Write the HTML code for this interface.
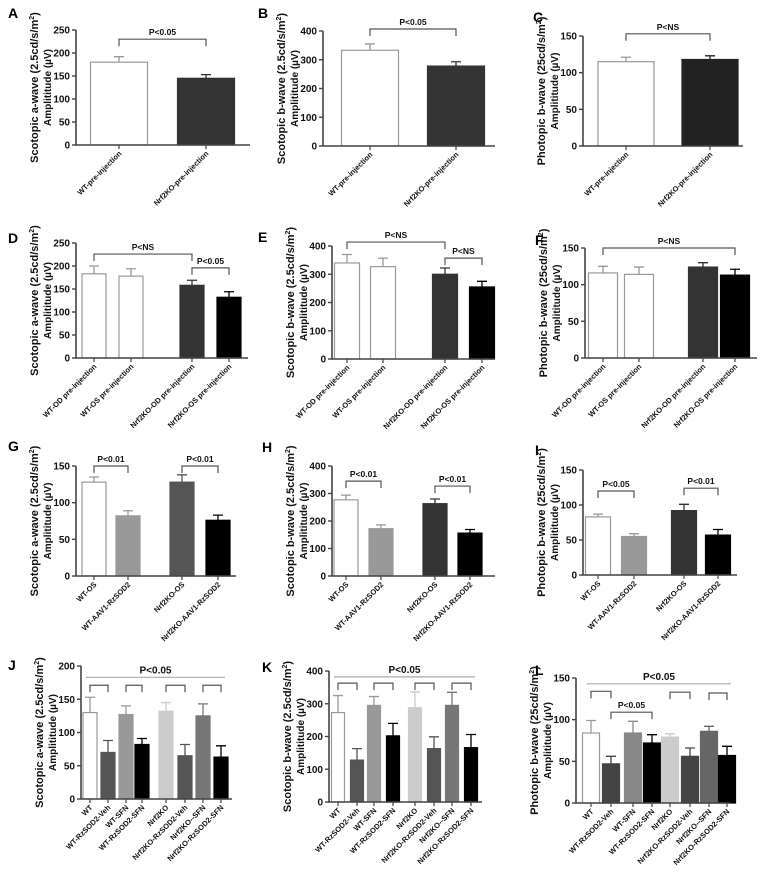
<!DOCTYPE html>
<html><head><meta charset="utf-8">
<style>
html,body{margin:0;padding:0;background:#fff;}
svg{display:block;font-family:"Liberation Sans",Arial,sans-serif;}
</style></head>
<body>
<svg id="fig" width="764" height="892" viewBox="0 0 764 892" xmlns="http://www.w3.org/2000/svg"></svg>
<script>
// ---- data arrays ----
const labelsPre2 = ["WT-pre-injection","Nrf2KO-pre-injection"];
const labelsPre4 = ["WT-OD pre-injection","WT-OS pre-injection","Nrf2KO-OD pre-injection","Nrf2KO-OS pre-injection"];
const labelsAAV = ["WT-OS","WT-AAV1-RzSOD2","Nrf2KO-OS","Nrf2KO-AAV1-RzSOD2"];
const labelsSFN = ["WT","WT-RzSOD2-Veh","WT-SFN","WT-RzSOD2-SFN","Nrf2KO","Nrf2KO-RzSOD2-Veh","Nrf2KO--SFN","Nrf2KO-RzSOD2-SFN"];

const valuesA = [180,145]; const errorsA = [12,8];
const valuesB = [333,278]; const errorsB = [22,15];
const valuesC = [115,118]; const errorsC = [6,5];
const valuesD = [183,178,158,132]; const errorsD = [17,16,11,12];
const valuesE = [340,327,300,255]; const errorsE = [30,30,22,20];
const valuesF = [116,114,124,113]; const errorsF = [9,10,6,8];
const valuesG = [128,82,128,76]; const errorsG = [7,7,10,7];
const valuesH = [277,172,263,156]; const errorsH = [17,14,17,13];
const valuesI = [83,55,92,57]; const errorsI = [4,4,9,8];
const valuesJ = [130,70,127,82,132,65,125,63]; const errorsJ = [23,18,13,9,13,17,18,17];
const valuesK = [273,128,295,202,288,163,295,166]; const errorsK = [52,35,27,38,48,36,40,40];
const valuesL = [84,47,84,72,79,56,86,57]; const errorsL = [15,9,14,10,4,10,6,11];

const ticksA = [0,50,100,150,200,250];
const ticksB = [0,100,200,300,400];
const ticksC = [0,50,100,150];
const ticksJ = [0,50,100,150,200];

// brackets: [from, to, value, label, style]
const bracketsA = [[0,1,230,"P<0.05"]];
const bracketsB = [[0,1,407,"P<0.05"]];
const bracketsC = [[0,1,153,"P<NS"]];
const bracketsD = [[0,2,226,"P<NS"],[2,3,196,"P<0.05"]];
const bracketsE = [[0,2,414,"P<NS"],[2,3,357,"P<NS"]];
const bracketsF = [[0,3,150,"P<NS"]];
const bracketsG = [[0,1,150,"P<0.01"],[2,3,150,"P<0.01"]];
const bracketsH = [[0,1,345,"P<0.01"],[2,3,327,"P<0.01"]];
const bracketsI = [[0,1,120,"P<0.05"],[2,3,124,"P<0.01"]];
const bracketsJ = [[0,7,183,"P<0.05","line"],[0,1,171,""],[2,3,171,""],[4,5,171,""],[6,7,171,""]];
const bracketsK = [[0,7,382,"P<0.05","line"],[0,1,363,""],[2,3,363,""],[4,5,363,""],[6,7,363,""]];
const bracketsL = [[0,7,143,"P<0.05","line"],[0,1,134,""],[4,5,133,""],[6,7,132,""],[1,3,109,"P<0.05"]];

const colorsPre2 = ["#fff","#333"];
const colorsC = ["#fff","#222"];
const colorsPre4 = ["#fff","#fff","#333","#000"];
const colorsG = ["#fff","#999","#555","#000"];
const colorsHI = ["#fff","#999","#333","#000"];
const colorsJ = ["#fff","#555","#999","#000","#ccc","#555","#777","#000"];
const colorsL = ["#fff","#444","#888","#000","#ccc","#444","#666","#000"];

// ---- layout (pixel geometry only) ----
const panels = [
 {id:"A",lx:8,ly:18,ax:76,xe:250,y0:145,yt:30,max:250,ticks:ticksA,vals:valuesA,errs:errorsA,labels:labelsPre2,colors:colorsPre2,cx:[119,206],bw:57,br:bracketsA,t1:"Scotopic a-wave (2.5cd/s/m",t2:"Amplititude (µV)"},
 {id:"B",lx:258,ly:18,ax:323,xe:495,y0:146,yt:31,max:400,ticks:ticksB,vals:valuesB,errs:errorsB,labels:labelsPre2,colors:colorsPre2,cx:[370,456],bw:57,br:bracketsB,t1:"Scotopic b-wave (2.5cd/s/m",t2:"Amplititude (µV)"},
 {id:"C",lx:533,ly:22,ax:583,xe:743,y0:146,yt:36,max:150,ticks:ticksC,vals:valuesC,errs:errorsC,labels:labelsPre2,colors:colorsC,cx:[626,710],bw:56,br:bracketsC,t1:"Photopic b-wave (25cd/s/m",t2:"Amplititude (µV)"},
 {id:"D",lx:8,ly:243,ax:76,xe:248,y0:358,yt:243,max:250,ticks:ticksA,vals:valuesD,errs:errorsD,labels:labelsPre4,colors:colorsPre4,cx:[94,131,192,229],bw:24,br:bracketsD,t1:"Scotopic a-wave (2.5cd/s/m",t2:"Amplititude (µV)"},
 {id:"E",lx:258,ly:242,ax:332,xe:495,y0:359,yt:246,max:400,ticks:ticksB,vals:valuesE,errs:errorsE,labels:labelsPre4,colors:colorsPre4,cx:[347,383,445,482],bw:25,br:bracketsE,t1:"Scotopic b-wave (2.5cd/s/m",t2:"Amplititude (µV)"},
 {id:"F",lx:535,ly:245,ax:585,xe:757,y0:358,yt:248,max:150,ticks:ticksC,vals:valuesF,errs:errorsF,labels:labelsPre4,colors:colorsPre4,cx:[603,639,703,735],bw:29,br:bracketsF,t1:"Photopic b-wave (25cd/s/m",t2:"Amplititude (µV)"},
 {id:"G",lx:8,ly:451,ax:76,xe:236,y0:576,yt:466,max:150,ticks:ticksC,vals:valuesG,errs:errorsG,labels:labelsAAV,colors:colorsG,cx:[94,128,182,218],bw:24,br:bracketsG,t1:"Scotopic a-wave (2.5cd/s/m",t2:"Amplititude (µV)"},
 {id:"H",lx:262,ly:452,ax:332,xe:495,y0:576,yt:466,max:400,ticks:ticksB,vals:valuesH,errs:errorsH,labels:labelsAAV,colors:colorsHI,cx:[346,381,435,470],bw:24,br:bracketsH,t1:"Scotopic b-wave (2.5cd/s/m",t2:"Amplititude (µV)"},
 {id:"I",lx:535,ly:455,ax:583,xe:737,y0:575,yt:470,max:150,ticks:ticksC,vals:valuesI,errs:errorsI,labels:labelsAAV,colors:colorsHI,cx:[598,634,684,718],bw:25,br:bracketsI,t1:"Photopic b-wave (25cd/s/m",t2:"Amplititude (µV)"},
 {id:"J",lx:8,ly:670,ax:81,xe:232,y0:799,yt:666,max:200,ticks:ticksJ,vals:valuesJ,errs:errorsJ,labels:labelsSFN,colors:colorsJ,cx:[90,108,126,142,166,185,203,221],bw:14,br:bracketsJ,t1:"Scotopic a-wave (2.5cd/s/m",t2:"Amplititude (µV)"},
 {id:"K",lx:262,ly:672,ax:329,xe:482,y0:802,yt:671,max:400,ticks:ticksB,vals:valuesK,errs:errorsK,labels:labelsSFN,colors:colorsJ,cx:[338,357,374,393,415,434,452,471],bw:13,br:bracketsK,t1:"Scotopic b-wave (2.5cd/s/m",t2:"Amplititude (µV)"},
 {id:"L",lx:535,ly:675,ax:576,xe:730,y0:803,yt:678,max:150,ticks:ticksC,vals:valuesL,errs:errorsL,labels:labelsSFN,colors:colorsL,cx:[591,611,633,652,670,690,709,727],bw:17,br:bracketsL,t1:"Photopic b-wave (25cd/s/m",t2:"Amplititude (µV)"}
];

const NS = "http://www.w3.org/2000/svg";
const svg = document.getElementById("fig");
function mk(tag, attrs, parent, text){
  const e = document.createElementNS(NS, tag);
  for (const k in attrs) e.setAttribute(k, attrs[k]);
  if (text !== undefined) e.textContent = text;
  parent.appendChild(e);
  return e;
}

panels.forEach(p => {
  const g = mk("g", {}, svg);
  
  
  const y = v => p.y0 - (v / p.max) * (p.y0 - p.yt);

  const letter = mk("text", {x:p.lx, y:p.ly, "font-size":14, "font-weight":"bold", fill:"#000"}, g, p.id);
  
  

  // y-axis title
  const mid = (p.y0 + p.yt) / 2;
  const t1 = mk("text", {x:0, y:0, "font-size":11, "font-weight":"bold", fill:"#111", "text-anchor":"middle", transform:`translate(${p.ax-38},${mid}) rotate(-90)`}, g, p.t1);
  mk("tspan", {"font-size":7, dy:-4}, t1, "2");
  mk("tspan", {dy:4}, t1, ")");
  
  
  const t2 = mk("text", {x:0, y:0, "font-size":10, "font-weight":"bold", fill:"#111", "text-anchor":"middle", transform:`translate(${p.ax-25},${mid}) rotate(-90)`}, g, p.t2);
  
  

  // bars
  p.vals.forEach((v, i) => {
    const c = p.colors[i];
    const white = c === "#fff";
    const stroke = white ? "#999" : c;
    const x = p.cx[i];
    const eb = mk("path", {d:`M${x},${y(v)}V${y(v+p.errs[i])}M${x-5},${y(v+p.errs[i])}H${x+5}`, stroke:stroke, "stroke-width":1.3, fill:"none"}, g);
    
    
    const r = mk("rect", {x:x-p.bw/2, y:y(v), width:p.bw, height:p.y0-y(v), fill:c, stroke:stroke, "stroke-width":1.2}, g);
    
    
    const tk = mk("line", {x1:x, x2:x, y1:p.y0, y2:p.y0+4, stroke:"#444", "stroke-width":1.2}, g);
    
    
    const lb = mk("text", {x:0, y:0, "font-size":7.5, "font-weight":"bold", fill:"#111", "text-anchor":"end", transform:`translate(${x+3},${p.y0+9}) rotate(-45)`}, g, p.labels[i]);
    
    
  });

  // axes
  const axes = mk("path", {d:`M${p.ax},${p.yt}V${p.y0}H${p.xe}`, stroke:"#444", "stroke-width":1.6, fill:"none"}, g);
  
  
  p.ticks.forEach(t => {
    const tl = mk("line", {x1:p.ax-4, x2:p.ax, y1:y(t), y2:y(t), stroke:"#444", "stroke-width":1.4}, g);
    
    
    const tt = mk("text", {x:p.ax-6, y:y(t)+3.5, "font-size":10, "font-weight":"bold", fill:"#111", "text-anchor":"end"}, g, String(t));
    
    
  });

  // brackets
  p.br.forEach(b => {
    const x1 = p.cx[b[0]], x2 = p.cx[b[1]], by = y(b[2]);
    let d;
    if (b[4] === "line") d = `M${x1-4},${by}H${x2+4}`;
    else d = `M${x1},${by+7}V${by}H${x2}V${by+7}`;
    const bp = mk("path", {d:d, stroke:b[4]==="line" ? "#aaa" : "#555", "stroke-width":1.2, fill:"none"}, g);
    
    
    if (b[3]) {
      const bt = mk("text", {x:(x1+x2)/2, y:by-4, "font-size": b[4]==="line" ? 10 : 8.5, "font-weight":"bold", fill:"#111", "text-anchor":"middle"}, g, b[3]);
      
      
    }
  });
});
</script>
</body></html>
